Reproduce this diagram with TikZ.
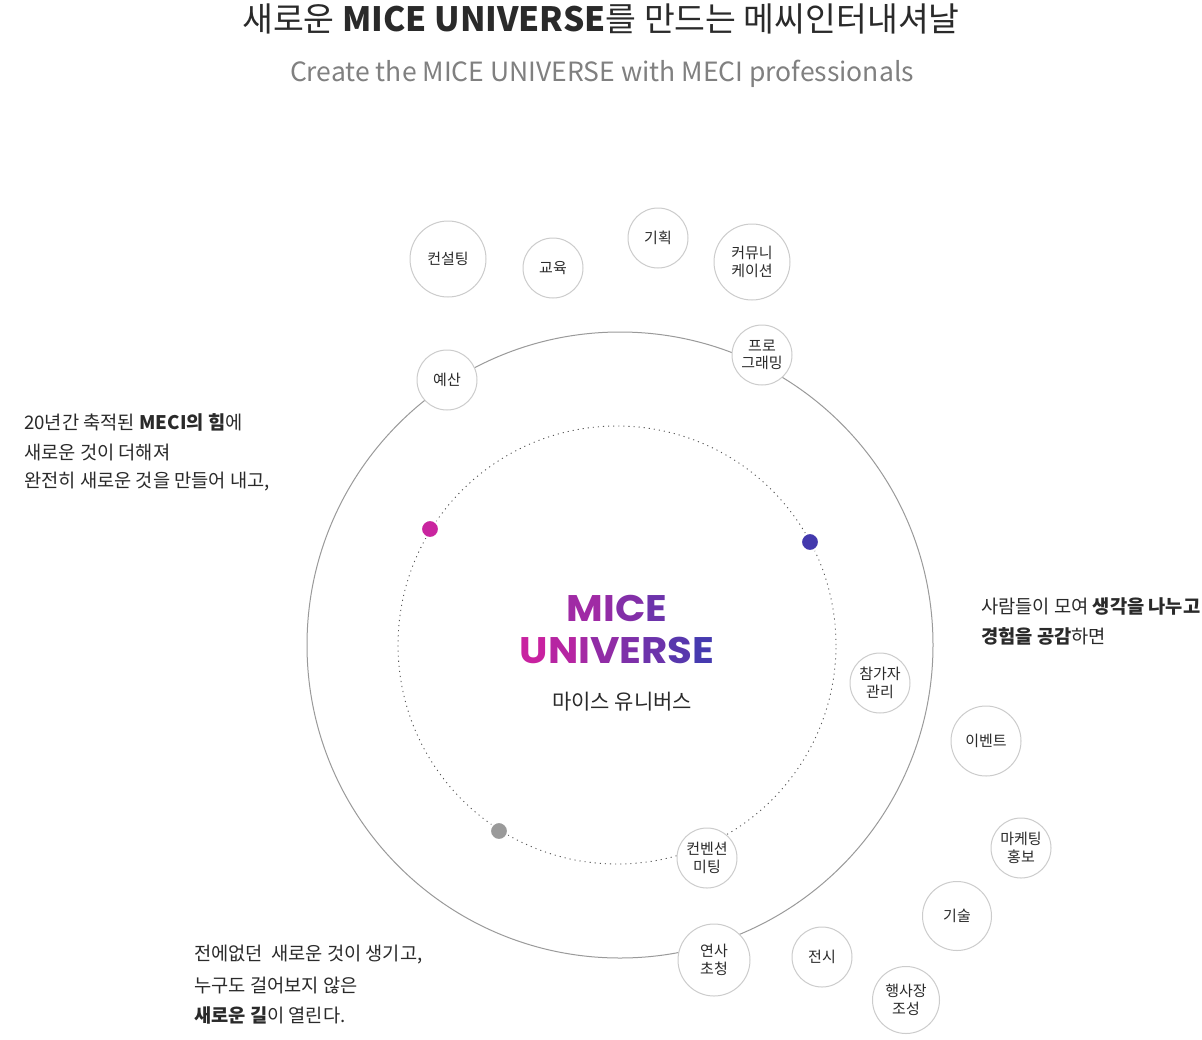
\documentclass[tikz,border=0pt]{standalone}
\usepackage{fontspec}
\usepackage{graphicx}
\setmainfont{Noto Sans CJK KR}
\newfontfamily\popfont{Poppins}
\usetikzlibrary{positioning}

\definecolor{txtdark}{HTML}{2A2A2A}
\definecolor{txtgray}{HTML}{808080}
\definecolor{circgray}{HTML}{9A9A9A}
\definecolor{bubgray}{HTML}{CCCCCC}
\definecolor{dotgray}{HTML}{555555}
\definecolor{magU}{RGB}{200,34,160}
\definecolor{bluE}{RGB}{70,58,175}
\definecolor{dotmag}{HTML}{C9259F}
\definecolor{dotblue}{HTML}{4339AD}
\definecolor{dotmid}{HTML}{9A9A9A}

\newcommand{\gl}[2]{\textcolor{bluE!#1!magU}{#2}}

\tikzset{
  bubble/.style={circle, draw=bubgray, fill=white, line width=1pt, inner sep=0pt,
    align=center, text=txtdark, font=\fontsize{15}{17.5}\selectfont},
  story/.style={anchor=west, inner sep=0pt, text=txtdark, font=\fontsize{18.7}{18.7}\selectfont},
  planet/.style={draw=white, line width=2pt}
}

\begin{document}
\begin{tikzpicture}[x=1pt,y=-1pt]

\useasboundingbox (0,0) rectangle (1202,1039);
\fill[white] (0,0) rectangle (1202,1039);

% orbits
\draw[circgray, line width=1pt] (620,645) circle [radius=313pt];
\draw[dotgray, line width=0.9pt, dash pattern=on 1.1pt off 4pt] (617,645) circle [radius=219pt];

\fill[dotmag, planet] (430,529) circle [radius=9pt];
\fill[dotblue, planet] (810,542) circle [radius=9pt];
\fill[dotmid, planet] (499,831) circle [radius=9pt];

% title
\node[inner sep=0pt, text=txtdark, font=\fontsize{33.5}{33.5}\selectfont] (title) at (601,19)
  {새로운 \textbf{MICE UNIVERSE}를 만드는 메씨인터내셔날};
\node[inner sep=0pt, text=txtgray, font=\fontsize{26.5}{26.5}\selectfont] (subtitle) at (602,74)
  {Create the MICE UNIVERSE with MECI professionals};

% center
\node[inner sep=0pt, font=\popfont\bfseries\fontsize{37}{37}\selectfont] (mice) at (617,608)
  {\scalebox{1.08}[1]{\gl{31}{M}\gl{41}{I}\gl{53}{C}\gl{70}{E}}};
\node[inner sep=0pt, font=\popfont\bfseries\fontsize{37}{37}\selectfont] (universe) at (617,650)
  {\scalebox{1.09}[1]{\gl{0}{U}\gl{14}{N}\gl{28}{I}\gl{42}{V}\gl{57}{E}\gl{71}{R}\gl{86}{S}\gl{100}{E}}};
\node[inner sep=0pt, text=txtdark, font=\fontsize{21}{21}\selectfont] (mice kr) at (622,702) {마이스 유니버스};

% bubbles
\node[bubble, minimum size=76pt] (consult) at (448,259) {컨설팅};
\node[bubble, minimum size=60pt] (edu) at (553,268) {교육};
\node[bubble, minimum size=60pt] (plan) at (658,238) {기획};
\node[bubble, minimum size=76pt] (comm) at (752,262) {커뮤니\\케이션};
\node[bubble, minimum size=60pt] (program) at (762,355) {프로\\그래밍};
\node[bubble, minimum size=60pt] (budget) at (447,380) {예산};
\node[bubble, minimum size=60pt] (guest) at (880,683) {참가자\\관리};
\node[bubble, minimum size=70pt] (event) at (986,741) {이벤트};
\node[bubble, minimum size=60pt] (market) at (1021,848) {마케팅\\홍보};
\node[bubble, minimum size=69pt] (tech) at (957,916) {기술};
\node[bubble, minimum size=60pt] (expo) at (822,957) {전시};
\node[bubble, minimum size=67pt] (venue) at (906,1000) {행사장\\조성};
\node[bubble, minimum size=72pt] (speaker) at (714,960) {연사\\초청};
\node[bubble, minimum size=60pt] (meeting) at (707,858) {컨벤션\\미팅};

% stories
\node[story] (left a) at (24,422) {20년간 축적된 \textbf{MECI의 힘}에};
\node[story] (left b) at (24,452) {새로운 것이 더해져};
\node[story] (left c) at (24,482) {완전히 새로운 것을 만들어 내고,};

\node[story] (right a) at (981,606) {사람들이 모여 \textbf{생각을 나누고}};
\node[story] (right b) at (981,636) {\textbf{경험을 공감}하면};

\node[story] (low a) at (194,955) {전에없던 \ 새로운 것이 생기고,};
\node[story] (low b) at (194,985) {누구도 걸어보지 않은};
\node[story] (low c) at (194,1015) {\textbf{새로운 길}이 열린다.};

\end{tikzpicture}
\end{document}
